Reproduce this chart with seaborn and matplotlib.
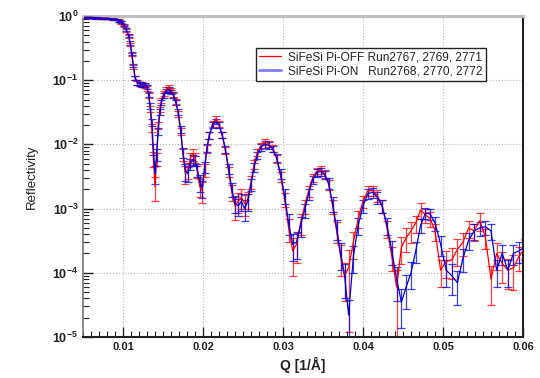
import numpy as np
import pandas as pd
import matplotlib
matplotlib.use("Agg")
import matplotlib.pyplot as plt
from matplotlib.ticker import MultipleLocator, LogLocator, LogFormatterMathtext, NullFormatter
from matplotlib.lines import Line2D
import seaborn as sns

# ---------------------------------------------------------------
# Data (shared Q binning for both spin states)
# ---------------------------------------------------------------
q = [
    0.0052, 0.0056, 0.0060, 0.0064, 0.0068, 0.0072, 0.0076, 0.0080, 0.0084, 0.0088,
    0.0092, 0.0095, 0.0098, 0.0101, 0.0104, 0.0107, 0.0109, 0.0111, 0.0113, 0.0115,
    0.0118, 0.0121, 0.0124, 0.0127, 0.0130, 0.0132, 0.0134, 0.0136, 0.0138, 0.0140,
    0.0142, 0.0144, 0.0146, 0.0148, 0.0151, 0.0154, 0.0157, 0.0160, 0.0163, 0.0166,
    0.0169, 0.0172, 0.0175, 0.0178, 0.0181, 0.0184, 0.0187, 0.0190, 0.0193, 0.0196,
    0.0199, 0.0202, 0.0205, 0.0208, 0.0212, 0.0216, 0.0220, 0.0224, 0.0228, 0.0232,
    0.0236, 0.0240, 0.0244, 0.0248, 0.0252, 0.0256, 0.0260, 0.0264, 0.0268, 0.0272,
    0.0277, 0.0282, 0.0287, 0.0292, 0.0297, 0.0302, 0.0307, 0.0312, 0.0317, 0.0322,
    0.0327, 0.0332, 0.0337, 0.0342, 0.0347, 0.0352, 0.0357, 0.0362, 0.0367, 0.0372,
    0.0377, 0.0382, 0.0388, 0.0394, 0.0400, 0.0406, 0.0412, 0.0418, 0.0424, 0.0430,
    0.0436, 0.0442, 0.0448, 0.0454, 0.0460, 0.0466, 0.0472, 0.0478, 0.0484, 0.0490,
    0.0497, 0.0504, 0.0511, 0.0518, 0.0525, 0.0532, 0.0539, 0.0546, 0.0553, 0.0560,
    0.0567, 0.0574, 0.0581, 0.0588, 0.0595, 0.0602,
]

# Pi-OFF (red)
r_off = [
    0.96, 0.95, 0.96, 0.95, 0.94, 0.94, 0.93, 0.92, 0.92, 0.90,
    0.88, 0.85, 0.79, 0.70, 0.60, 0.48, 0.36, 0.25, 0.16, 0.11,
    0.090, 0.087, 0.086, 0.082, 0.075, 0.058, 0.036, 0.018, 0.0060, 0.0022,
    0.0060, 0.020, 0.035, 0.048, 0.062, 0.072, 0.078, 0.070, 0.060, 0.046,
    0.030, 0.016, 0.0070, 0.0035, 0.0040, 0.0060, 0.0070, 0.0062, 0.0038, 0.0022,
    0.0019, 0.0040, 0.0085, 0.014, 0.021, 0.025, 0.021, 0.014, 0.0080, 0.0038,
    0.0018, 0.0011, 0.0013, 0.0015, 0.0012, 0.0014, 0.0026, 0.0050, 0.0075, 0.0095,
    0.0110, 0.0102, 0.0088, 0.0060, 0.0032, 0.0014, 0.00050, 0.00022, 0.00028, 0.00060,
    0.0011, 0.0019, 0.0030, 0.0038, 0.0040, 0.0035, 0.0024, 0.0011, 0.00045, 0.00018,
    0.00009, 0.00012, 0.00030, 0.00070, 0.0013, 0.0019, 0.0019, 0.0016, 0.0011, 0.00050,
    0.00018, 0.00006, 0.00025, 0.00035, 0.00045, 0.00060, 0.00095, 0.00080, 0.00070, 0.00045,
    0.00011, 0.00015, 0.00016, 0.00023, 0.00030, 0.00050, 0.00045, 0.00065, 0.00036, 0.00008,
    0.00020, 0.00014, 0.00011, 0.00012, 0.00018, 0.00024,
]
rel_err_off = [
    0.03, 0.03, 0.03, 0.03, 0.03, 0.03, 0.03, 0.03, 0.03, 0.03,
    0.03, 0.04, 0.04, 0.04, 0.05, 0.05, 0.06, 0.06, 0.07, 0.07,
    0.08, 0.08, 0.08, 0.08, 0.08, 0.09, 0.10, 0.14, 0.25, 0.40,
    0.22, 0.12, 0.10, 0.09, 0.08, 0.08, 0.08, 0.08, 0.08, 0.09,
    0.10, 0.12, 0.20, 0.30, 0.28, 0.22, 0.20, 0.18, 0.22, 0.30,
    0.35, 0.22, 0.14, 0.12, 0.10, 0.10, 0.10, 0.11, 0.13, 0.18,
    0.28, 0.40, 0.35, 0.35, 0.35, 0.30, 0.22, 0.16, 0.13, 0.12,
    0.12, 0.12, 0.12, 0.14, 0.18, 0.25, 0.40, 0.60, 0.50, 0.35,
    0.25, 0.20, 0.15, 0.14, 0.14, 0.15, 0.18, 0.25, 0.35, 0.50,
    0.60, 0.90, 0.45, 0.30, 0.22, 0.18, 0.18, 0.20, 0.22, 0.30,
    0.40, 0.85, 0.45, 0.40, 0.35, 0.30, 0.28, 0.25, 0.25, 0.30,
    0.45, 0.45, 0.50, 0.45, 0.40, 0.30, 0.30, 0.30, 0.35, 0.60,
    0.45, 0.50, 0.50, 0.55, 0.40, 0.35,
]

# Pi-ON (blue)
r_on = [
    0.95, 0.96, 0.95, 0.94, 0.95, 0.93, 0.92, 0.93, 0.91, 0.90,
    0.88, 0.84, 0.80, 0.72, 0.62, 0.50, 0.38, 0.26, 0.17, 0.11,
    0.092, 0.088, 0.085, 0.084, 0.078, 0.060, 0.040, 0.022, 0.0085, 0.0035,
    0.0070, 0.016, 0.032, 0.045, 0.058, 0.068, 0.072, 0.066, 0.058, 0.045,
    0.032, 0.017, 0.0075, 0.0038, 0.0035, 0.0050, 0.0058, 0.0056, 0.0040, 0.0026,
    0.0021, 0.0045, 0.0090, 0.014, 0.020, 0.023, 0.020, 0.014, 0.0085, 0.0042,
    0.0020, 0.0012, 0.0011, 0.0013, 0.0010, 0.0013, 0.0024, 0.0045, 0.0068, 0.0090,
    0.0100, 0.0098, 0.0085, 0.0062, 0.0035, 0.0016, 0.00060, 0.00028, 0.00030, 0.00055,
    0.00095, 0.0017, 0.0028, 0.0036, 0.0038, 0.0034, 0.0025, 0.0012, 0.00050, 0.00020,
    0.00009, 0.000022, 0.00018, 0.00055, 0.0011, 0.0017, 0.0018, 0.0015, 0.0011, 0.00055,
    0.00022, 0.00008, 0.000035, 0.00006, 0.00010, 0.00022, 0.00055, 0.00085, 0.00082, 0.00060,
    0.00028, 0.00011, 0.00009, 0.00007, 0.00017, 0.00032, 0.00045, 0.00050, 0.00052, 0.00045,
    0.00011, 0.00020, 0.00011, 0.00020, 0.00022, 0.00025,
]
rel_err_on = [
    0.03, 0.03, 0.03, 0.03, 0.03, 0.03, 0.03, 0.03, 0.03, 0.03,
    0.03, 0.04, 0.04, 0.04, 0.05, 0.05, 0.06, 0.06, 0.07, 0.07,
    0.08, 0.08, 0.08, 0.08, 0.08, 0.09, 0.10, 0.12, 0.20, 0.30,
    0.20, 0.12, 0.10, 0.09, 0.08, 0.08, 0.08, 0.08, 0.08, 0.09,
    0.10, 0.12, 0.18, 0.30, 0.25, 0.20, 0.18, 0.18, 0.22, 0.30,
    0.30, 0.20, 0.14, 0.12, 0.10, 0.10, 0.10, 0.11, 0.13, 0.18,
    0.25, 0.30, 0.30, 0.30, 0.35, 0.30, 0.22, 0.16, 0.13, 0.12,
    0.12, 0.12, 0.12, 0.14, 0.18, 0.25, 0.35, 0.45, 0.45, 0.35,
    0.25, 0.20, 0.15, 0.14, 0.14, 0.15, 0.18, 0.25, 0.35, 0.45,
    0.55, 0.70, 0.45, 0.30, 0.22, 0.18, 0.18, 0.20, 0.22, 0.30,
    0.40, 0.55, 0.60, 0.55, 0.45, 0.35, 0.25, 0.20, 0.20, 0.25,
    0.35, 0.45, 0.50, 0.55, 0.40, 0.30, 0.28, 0.25, 0.25, 0.28,
    0.45, 0.35, 0.45, 0.35, 0.35, 0.35,
]

labels = ["SiFeSi Pi-OFF Run2767, 2769, 2771", "SiFeSi Pi-ON   Run2768, 2770, 2772"]
colors = ["#ff0000", "#0000dd"]

df = pd.concat([
    pd.DataFrame({"Q": q, "R": r_off, "err": np.array(r_off) * np.array(rel_err_off), "run": labels[0]}),
    pd.DataFrame({"Q": q, "R": r_on, "err": np.array(r_on) * np.array(rel_err_on), "run": labels[1]}),
], ignore_index=True)

# ---------------------------------------------------------------
# Plot
# ---------------------------------------------------------------
sns.set_theme(style="white")
plt.rcParams["font.family"] = ["Liberation Sans", "DejaVu Sans"]

fig = plt.figure(figsize=(5.4, 3.78), dpi=100)
ax = fig.add_axes([0.1537, 0.1085, 0.8148, 0.8492])

for lab, col in zip(labels, colors):
    sub = df[df["run"] == lab]
    ax.errorbar(sub["Q"], sub["R"], yerr=sub["err"], fmt="none", ecolor=col,
                elinewidth=0.9, capsize=3, capthick=0.9, alpha=0.75, zorder=2)

sns.lineplot(data=df, x="Q", y="R", hue="run", palette=colors, linewidth=0.9,
             estimator=None, sort=False, legend=False, ax=ax, zorder=3)

ax.set_yscale("log")
ax.set_xlim(0.005, 0.06)
ax.set_ylim(1e-5, 1)

ax.xaxis.set_major_locator(MultipleLocator(0.01))
ax.xaxis.set_minor_locator(MultipleLocator(0.001))
ax.xaxis.set_major_formatter(plt.FuncFormatter(lambda v, p: f"{v:.2f}".rstrip("0") if v > 0.0055 else ""))
ax.yaxis.set_major_locator(LogLocator(base=10, numticks=10))
ax.yaxis.set_minor_locator(LogLocator(base=10, subs=np.arange(2, 10), numticks=20))
ax.yaxis.set_major_formatter(LogFormatterMathtext())
ax.yaxis.set_minor_formatter(NullFormatter())

ax.tick_params(axis="both", which="both", direction="in", colors="#222222",
               labelsize=8, top=False, right=False, left=True, bottom=True)
ax.tick_params(axis="y", which="major", labelsize=9)
ax.tick_params(axis="both", which="major", length=7, width=1.0)
ax.tick_params(axis="both", which="minor", length=4, width=0.8)

ax.grid(True, which="major", linestyle=":", color="#bbbbbb", linewidth=0.8)

ax.spines["top"].set_color("#c0c0c0")
ax.spines["top"].set_linewidth(2.2)
ax.spines["left"].set_color("#777777")
ax.spines["left"].set_linewidth(1.2)
ax.spines["bottom"].set_color("#222222")
ax.spines["bottom"].set_linewidth(1.5)
ax.spines["right"].set_color("#222222")
ax.spines["right"].set_linewidth(1.5)

ax.set_xlabel("Q [1/Å]", fontsize=10, fontweight="bold", color="#222222")
ax.set_ylabel("Reflectivity", fontsize=9.5, color="#222222", labelpad=10)

handles = [Line2D([], [], color="#ff0000", linewidth=0.9),
           Line2D([], [], color="#8080ee", linewidth=2.0)]
leg = ax.legend(handles, labels, loc="upper right", bbox_to_anchor=(0.93, 0.92),
                fontsize=8.6, frameon=True, fancybox=False, framealpha=1,
                handlelength=1.8, handletextpad=0.6, borderpad=0.3, labelspacing=0.15)
leg.get_frame().set_edgecolor("#222222")
leg.get_frame().set_linewidth(1.0)

fig.canvas.draw()
for t in ax.get_xticklabels() + ax.get_yticklabels():
    t.set_fontweight("bold")

fig.savefig("out.png", dpi=100)
